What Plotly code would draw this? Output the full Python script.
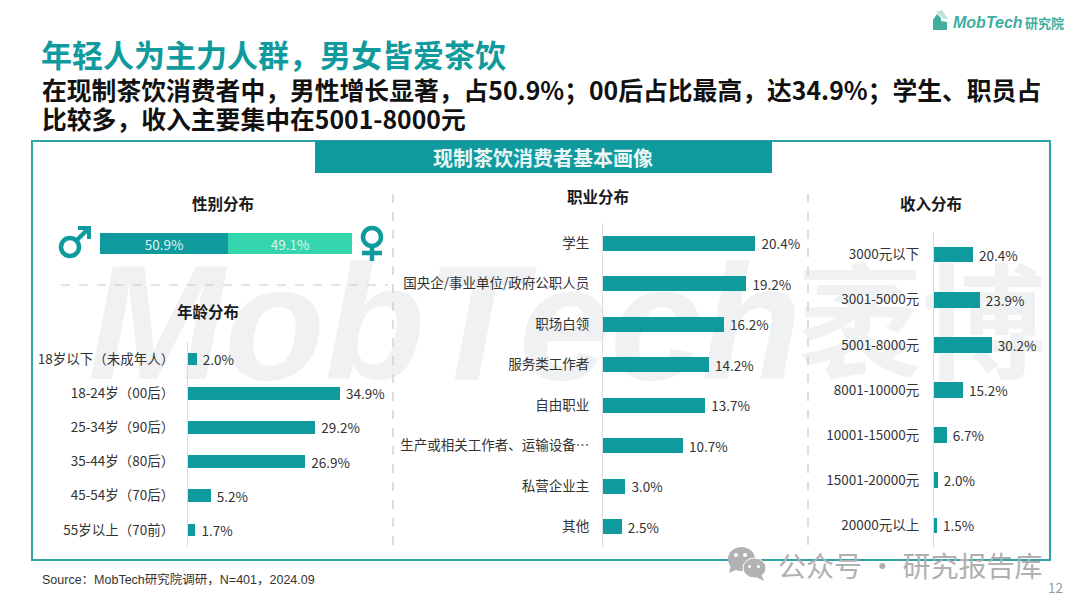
import plotly.graph_objects as go

W, H = 1080, 608
CJK = "Noto Sans CJK SC"
TEAL = "#0f9a9e"
MINT = "#33d6ac"
DARK = "#333333"
LOGO = "#3fae9f"

age_labels = ["18岁以下（未成年人）", "18-24岁（00后）", "25-34岁（90后）", "35-44岁（80后）", "45-54岁（70后）", "55岁以上（70前）"]
age_values = [2.0, 34.9, 29.2, 26.9, 5.2, 1.7]
job_labels = ["学生", "国央企/事业单位/政府公职人员", "职场白领", "服务类工作者", "自由职业", "生产或相关工作者、运输设备…", "私营企业主", "其他"]
job_values = [20.4, 19.2, 16.2, 14.2, 13.7, 10.7, 3.0, 2.5]
inc_labels = ["3000元以下", "3001-5000元", "5001-8000元", "8001-10000元", "10001-15000元", "15001-20000元", "20000元以上"]
inc_values = [20.4, 23.9, 30.2, 15.2, 6.7, 2.0, 1.5]
gender_names = ["男", "女"]
gender_values = [50.9, 49.1]


def px(x):
    return x / W


def py(y):
    return 1 - y / H


fig = go.Figure()

# Watermark lives in the first (bottom-most) subplot, so the bars paint over it
WM = "#eff1f2"
fig.add_trace(go.Scatter(
    x=[88], y=[338], mode="text", text=["<b><i>MobTech</i></b>"], textposition="middle right",
    textfont=dict(family="Liberation Sans", size=164, color=WM), cliponaxis=False,
    xaxis="x", yaxis="y", showlegend=False, hoverinfo="skip"))
fig.add_trace(go.Scatter(
    x=[798], y=[338], mode="text", text=["<b>袤博</b>"], textposition="middle right",
    textfont=dict(family=CJK, size=124, color=WM), cliponaxis=False,
    xaxis="x", yaxis="y", showlegend=False, hoverinfo="skip"))
fig.update_layout(
    xaxis=dict(domain=[0, 1], range=[0, W], visible=False, anchor="y"),
    yaxis=dict(domain=[0, 1], range=[H, 0], visible=False, anchor="x"),
)


def fmt(v):
    return [f"\u00a0{a:.1f}%" for a in v]


def hbar(idx, labels, values, x0, x1, y0, y1, xmax, gap, standoff):
    suffix = str(idx)
    fig.add_trace(go.Bar(
        x=values, y=labels, orientation="h", marker=dict(color=TEAL, line_width=0),
        text=fmt(values), textposition="outside", cliponaxis=False, constraintext="none",
        textfont=dict(family=CJK, size=13.5, color=DARK),
        xaxis="x" + suffix, yaxis="y" + suffix, width=gap, showlegend=False,
    ))
    fig.update_layout(**{
        "xaxis" + suffix: dict(domain=[px(x0), px(x1)], range=[0, xmax], visible=False,
                               anchor="y" + suffix),
        "yaxis" + suffix: dict(domain=[py(y1), py(y0)], autorange="reversed", type="category",
                               anchor="x" + suffix, showline=True, linecolor="#dcdcdc", linewidth=1,
                               ticks="", showgrid=False, ticklabelstandoff=standoff,
                               tickfont=dict(family=CJK, size=13.5, color=DARK)),
    })


hbar(2, age_labels, age_values, 188, 390, 342, 547, 202 / 4.355, 0.37, 10)
hbar(3, job_labels, job_values, 603, 800, 223, 547, 197 / 7.47, 0.36, 10)
hbar(4, inc_labels, inc_values, 934, 1048, 232, 548, 114 / 1.91, 0.35, 11)

# Gender share stacked bar
g_colors = [TEAL, MINT]
for name, val, col in zip(gender_names, gender_values, g_colors):
    fig.add_trace(go.Bar(
        x=[val], y=["性别"], orientation="h", name=name, marker=dict(color=col, line_width=0),
        text=[f"{val:.1f}%"], textposition="inside", insidetextanchor="middle", constraintext="none",
        textfont=dict(family=CJK, size=13.5, color="#dff3f0"),
        xaxis="x5", yaxis="y5", width=1, showlegend=False,
    ))
fig.update_layout(
    xaxis5=dict(domain=[px(100), px(352)], range=[0, 100], visible=False, anchor="y5"),
    yaxis5=dict(domain=[py(254), py(233)], visible=False, anchor="x5"),
    barmode="stack",
)


def S(kind, x0, y0, x1, y1, **kw):
    return dict(type=kind, xref="paper", yref="paper", x0=px(x0), x1=px(x1), y0=py(y0), y1=py(y1), **kw)


def P(points, color):
    d = "M" + " L".join(f"{px(a):.5f},{py(b):.5f}" for a, b in points) + " Z"
    return dict(type="path", xref="paper", yref="paper", path=d, line_width=0, fillcolor=color)


DASH = dict(color="#c8c8c8", width=1.2, dash="dash")
shapes = [
    S("rect", 32, 141, 1050, 560, line=dict(color="#2fa3a8", width=2), fillcolor="rgba(0,0,0,0)"),
    S("rect", 315, 141, 772, 173, line_width=0, fillcolor=TEAL),
    S("line", 393, 194, 393, 548, line=DASH),
    S("line", 808, 194, 808, 548, line=DASH),
    S("line", 61, 285, 388, 285, line=DASH),
    # male icon
    S("circle", 61, 238, 79, 256, line=dict(color=TEAL, width=4.5), fillcolor="rgba(0,0,0,0)"),
    S("line", 76, 241, 88, 229, line=dict(color=TEAL, width=4.5)),
    P([(78, 226), (91, 226), (91, 239), (87, 239), (87, 230), (78, 230)], TEAL),
    # female icon
    S("circle", 363, 228, 381, 246, line=dict(color=TEAL, width=4.5), fillcolor="rgba(0,0,0,0)"),
    S("line", 372, 248, 372, 261, line=dict(color=TEAL, width=4.5)),
    S("line", 362, 253, 382, 253, line=dict(color=TEAL, width=4.5)),
    # logo
    P([(928, 30), (933, 30), (933, 20), (937, 14), (941, 18), (941, 21), (947, 22), (947, 30)], LOGO),
    P([(936, 12), (942, 10), (948, 19), (944, 19)], "#bfe3dc"),
    # WeChat mark
    S("circle", 728, 547, 755, 571, line_width=0, fillcolor="#b2b2b2"),
    P([(731, 564), (729, 573), (738, 569)], "#b2b2b2"),
    S("circle", 743, 558, 766, 578, line=dict(color="white", width=1), fillcolor="#b2b2b2"),
    P([(761, 574), (764, 581), (756, 577)], "#b2b2b2"),
    S("circle", 734, 553, 738, 557, line_width=0, fillcolor="white"),
    S("circle", 743, 553, 747, 557, line_width=0, fillcolor="white"),
    S("circle", 748, 565, 751, 568, line_width=0, fillcolor="white"),
    S("circle", 757, 565, 760, 568, line_width=0, fillcolor="white"),
]


def note(text, x, y, size, color=DARK, anchor="left", family=CJK):
    return dict(text=text, x=px(x), y=py(y), xref="paper", yref="paper", showarrow=False,
                xanchor=anchor, yanchor="middle", align=anchor,
                font=dict(family=family, size=size, color=color))


annotations = [
    note("<b>年轻人为主力人群，男女皆爱茶饮</b>", 39, 54, 31, TEAL),
    note("<b>在现制茶饮消费者中，男性增长显著，占50.9%；00后占比最高，达34.9%；学生、职员占</b>", 40, 89, 24.8, "#111111"),
    note("<b>比较多，收入主要集中在5001-8000元</b>", 40, 118, 24.8, "#111111"),
    note("<b>现制茶饮消费者基本画像</b>", 543, 157, 20, "#eaf7f6", "center"),
    note("<b>性别分布</b>", 223, 203, 15.5, "#1a1a1a", "center"),
    note("<b>年龄分布</b>", 208, 311, 15.5, "#1a1a1a", "center"),
    note("<b>职业分布</b>", 598, 196, 15.5, "#1a1a1a", "center"),
    note("<b>收入分布</b>", 931, 203, 15.5, "#1a1a1a", "center"),
    note("Source：MobTech研究院调研，N=401，2024.09", 40, 579, 12.5, "#333333", "left", "Liberation Sans, Noto Sans CJK SC"),
    note("12", 1065, 587, 13.5, "#999999", "right"),
    note("<b><i>MobTech</i></b>", 951, 23, 16, LOGO, "left", "Liberation Sans"),
    note("<b>研究院</b>", 1023, 23, 13, LOGO),
    note("公众号 · 研究报告库", 776, 565, 28, "#b0b0b0"),
]
fig.update_layout(
    shapes=shapes,
    annotations=annotations,
    width=W, height=H, autosize=False,
    margin=dict(l=0, r=0, t=0, b=0),
    paper_bgcolor="white", plot_bgcolor="rgba(0,0,0,0)",
    showlegend=False,
)

fig.write_html("out.html", config=dict(displayModeBar=False),
               post_script="document.body.style.margin='0';document.body.style.overflow='hidden';")
